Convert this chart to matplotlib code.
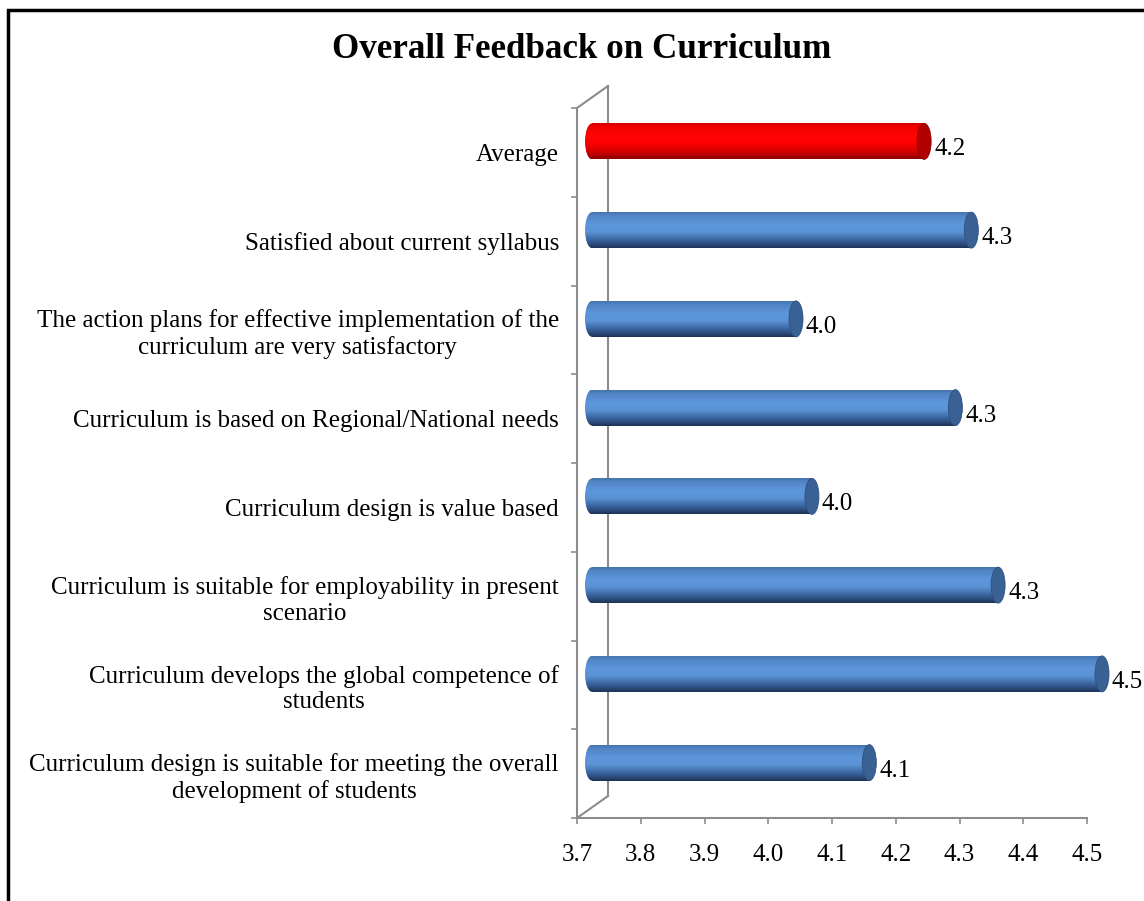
import numpy as np
import matplotlib
matplotlib.use("Agg")
from matplotlib import pyplot as plt
from matplotlib.patches import Ellipse, Rectangle
from matplotlib.lines import Line2D
from matplotlib.colors import LinearSegmentedColormap
import matplotlib.transforms as mtransforms

# data, top to bottom as in the chart
labels = ["Average",
          "Satisfied about current syllabus",
          "The action plans for effective implementation of the\ncurriculum are very satisfactory",
          "Curriculum is based on Regional/National needs",
          "Curriculum design is value based",
          "Curriculum is suitable for employability in present\nscenario",
          "Curriculum develops the global competence of\nstudents",
          "Curriculum design is suitable for meeting the overall\ndevelopment of students"]
scores = [4.221, 4.295, 4.02, 4.27, 4.045, 4.337, 4.50, 4.135]
highlight = [True, False, False, False, False, False, False, False]
xticks = [3.7, 3.8, 3.9, 4.0, 4.1, 4.2, 4.3, 4.4, 4.5]

plt.rcParams['font.family'] = ['Liberation Serif', 'DejaVu Serif']

W, H = 1144, 901
fig = plt.figure(figsize=(W / 100, H / 100), dpi=100)
ax = fig.add_axes([577 / W, 1 - 818 / H, 510 / W, 710 / H])
ax.set_xlim(3.7, 4.5)
ax.set_ylim(-0.5, len(labels) - 0.5)

blue_cm = LinearSegmentedColormap.from_list('b', [
    (0.0, '#1c3354'), (0.15, '#30548a'), (0.45, '#5a93d6'),
    (0.65, '#5d97db'), (0.9, '#5185c5'), (1.0, '#4774ad')])
red_cm = LinearSegmentedColormap.from_list('r', [
    (0.0, '#860000'), (0.15, '#c40000'), (0.45, '#ff0000'),
    (0.65, '#ff0404'), (0.9, '#f00000'), (1.0, '#d40000')])

# 3d depth shift of the bars (half of the wall depth)
shift = ax.transData + mtransforms.ScaledTranslation(15 / 100, 11 / 100, fig.dpi_scale_trans)
capw = 14 / 637.5  # width of the elliptic end, in data units

ypos = np.arange(len(labels))[::-1]
vals = np.array(scores)
bars = ax.barh(ypos, vals - 3.7, left=3.7, height=0.405, color='none',
               edgecolor='none', transform=shift, clip_on=False)

grad = np.linspace(0, 1, 256).reshape(-1, 1)
for b, v, hl in zip(bars, vals, highlight):
    x0, y0, w, h = b.get_x(), b.get_y(), b.get_width(), b.get_height()
    yc = y0 + h / 2
    cm = red_cm if hl else blue_cm
    left_end = Ellipse((x0, yc), capw, h, facecolor='none', edgecolor='none',
                       transform=shift, clip_on=False)
    ax.add_patch(left_end)
    for clip in (left_end, b):
        im = ax.imshow(grad, cmap=cm, origin='lower', aspect='auto', interpolation='bilinear',
                       extent=[x0 - capw, x0 + w, y0, y0 + h], transform=shift, zorder=2)
        im.set_clip_box(fig.bbox)
        im.set_clip_path(clip)
    cap = Ellipse((x0 + w, yc), capw, h, facecolor='#b00000' if hl else '#3a6193',
                  edgecolor='#8a0000' if hl else '#2f5080', lw=0.6, transform=shift,
                  zorder=3, clip_on=False)
    ax.add_patch(cap)
    ax.annotate(f"{v:.1f}", xy=(x0 + w, yc), xycoords=shift, xytext=(10, -8),
                textcoords='offset pixels', ha='left', va='center', fontsize=18,
                annotation_clip=False)

ax.set_xlim(3.7, 4.5)
ax.set_ylim(-0.5, len(labels) - 0.5)

gray = '#8c8c8c'
for s in ['top', 'right']:
    ax.spines[s].set_visible(False)
for s in ['left', 'bottom']:
    ax.spines[s].set_color(gray)
    ax.spines[s].set_linewidth(1.5)

ax.set_yticks(ypos)
ax.set_yticklabels(labels, fontsize=18, linespacing=1.2, ha='right', multialignment='center')
ax.set_yticks(np.arange(-0.5, len(labels), 1.0), minor=True)
ax.tick_params(axis='y', which='major', length=0, pad=13)
ax.tick_params(axis='y', which='minor', length=4.5, width=1.2, color=gray)
ax.set_xticks(xticks)
ax.set_xticklabels([f"{t:.1f}" for t in xticks], fontsize=18)
ax.tick_params(axis='x', length=4.5, width=1.2, color=gray, pad=14)

# back wall of the 3d frame, behind the bars
def px(x, y):
    return x / W, 1 - y / H

for (xa, ya), (xb, yb) in [((577, 108), (608, 86)), ((608, 86), (608, 796)),
                           ((577, 818), (608, 796))]:
    (fx0, fy0), (fx1, fy1) = px(xa, ya), px(xb, yb)
    ax.add_line(Line2D([fx0, fx1], [fy0, fy1], color=gray, lw=1.5,
                       transform=fig.transFigure, clip_on=False, zorder=1))

fig.text(582 / W, 1 - 50 / H, "Overall Feedback on Curriculum", ha='center', va='center',
         fontsize=25.2, fontweight='bold')

fig.add_artist(Rectangle((8 / W, -0.1), 2, 1.1 - 10 / H, transform=fig.transFigure,
                         fill=False, edgecolor='black', lw=2.5))

fig.savefig("out.png", dpi=100)
